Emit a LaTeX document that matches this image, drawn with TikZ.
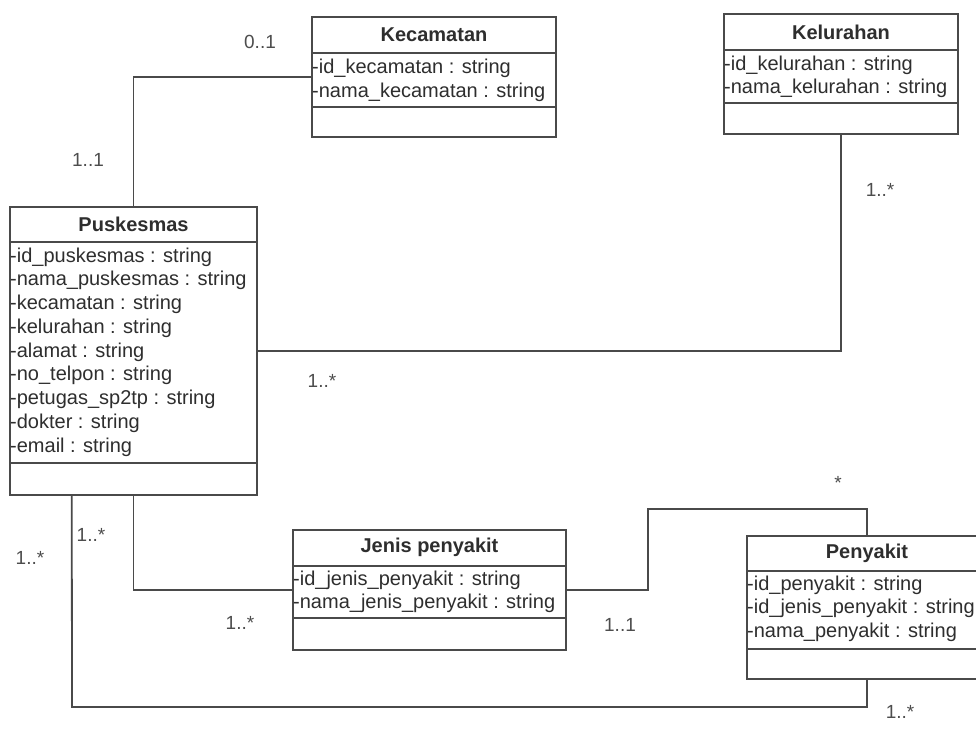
\documentclass[tikz,border=0pt]{standalone}
\usepackage{fontspec}
\setmainfont{Liberation Sans}
\usetikzlibrary{calc}
\definecolor{ink}{HTML}{2E2E2E}
\definecolor{edge}{HTML}{4A4A4A}
\begin{document}
\begin{tikzpicture}[x=1pt,y=-1pt,
  classbox/.style={draw=edge, line width=1.8pt, fill=white, anchor=north west,
                   inner sep=0pt, outer sep=0pt},
  ctitle/.style={font=\fontsize{20}{24}\selectfont\bfseries, text=ink, inner sep=0pt},
  attr/.style={font=\fontsize{20}{24}\selectfont, text=ink, anchor=west, inner sep=0pt},
  mult/.style={font=\fontsize{19}{23}\selectfont, text=ink!85, inner sep=0pt},
  assoc/.style={draw=edge, line width=1.8pt},
  compart/.style={draw=edge, line width=1.8pt}]

\useasboundingbox (0,0) rectangle (976,749);
\clip (0,0) rectangle (976,749);
\fill[white] (0,0) rectangle (976,749);

% ---------- class boxes ----------
\node[classbox, minimum width=244, minimum height=120] (kec) at (312,17) {};
\node[classbox, minimum width=234, minimum height=120] (kel) at (724,14) {};
\node[classbox, minimum width=247, minimum height=288] (pus) at (10,207) {};
\node[classbox, minimum width=273, minimum height=120] (jen) at (293,530) {};
\node[classbox, minimum width=240, minimum height=143] (pen) at (747,536) {};

% ---------- associations ----------
\coordinate (bendA) at (648,509);
\coordinate (pusA) at ($(pus.south west)!0.25!(pus.south east)$);
\coordinate (low) at (72,707);

\draw[assoc] (kec.west) -| (pus.north);
\draw[assoc] (kel.south) |- (pus.east);
\draw[assoc] (pus.south) |- (jen.west);
\draw[assoc] (jen.east) -| (bendA) -| (pen.north);
\draw[assoc] (pusA) -- (low) -| (pen.south);

% ---------- compartments ----------
\draw[compart] (312,53) -- (556,53) (312,107) -- (556,107);
\draw[compart] (724,50) -- (958,50) (724,103) -- (958,103);
\draw[compart] (10,242) -- (257,242) (10,463) -- (257,463);
\draw[compart] (293,566) -- (566,566) (293,618) -- (566,618);
\draw[compart] (747,571) -- (987,571) (747,649) -- (987,649);

% redraw outlines over the connector ends
\foreach \b in {kec,kel,pus,jen,pen}
  \draw[edge, line width=1.8pt] (\b.north west) rectangle (\b.south east);

% ---------- Kecamatan ----------
\node[ctitle] (kecT) at (434,35) {Kecamatan};
\node[attr] (kecA1) at (312,68) {-id\_kecamatan : string};
\node[attr] (kecA2) at (312,92) {-nama\_kecamatan : string};

% ---------- Kelurahan ----------
\node[ctitle] (kelT) at (841,32) {Kelurahan};
\node[attr] (kelA1) at (724,65) {-id\_kelurahan : string};
\node[attr] (kelA2) at (724,88) {-nama\_kelurahan : string};

% ---------- Puskesmas ----------
\node[ctitle] (pusT) at (133.5,224) {Puskesmas};
\node[attr] (pusA1) at (10,257) {-id\_puskesmas : string};
\node[attr] (pusA2) at (10,280.75) {-nama\_puskesmas : string};
\node[attr] (pusA3) at (10,304.5) {-kecamatan : string};
\node[attr] (pusA4) at (10,328.25) {-kelurahan : string};
\node[attr] (pusA5) at (10,352) {-alamat : string};
\node[attr] (pusA6) at (10,375.75) {-no\_telpon : string};
\node[attr] (pusA7) at (10,399.5) {-petugas\_sp2tp : string};
\node[attr] (pusA8) at (10,423.25) {-dokter : string};
\node[attr] (pusA9) at (10,447) {-email : string};

% ---------- Jenis penyakit ----------
\node[ctitle] (jenT) at (429.5,547) {Jenis penyakit};
\node[attr] (jenA1) at (293,580) {-id\_jenis\_penyakit : string};
\node[attr] (jenA2) at (293,603) {-nama\_jenis\_penyakit : string};

% ---------- Penyakit ----------
\node[ctitle] (penT) at (867,553) {Penyakit};
\node[attr] (penA1) at (747,585) {-id\_penyakit : string};
\node[attr] (penA2) at (747,608.5) {-id\_jenis\_penyakit : string};
\node[attr] (penA3) at (747,632) {-nama\_penyakit : string};

% ---------- multiplicities ----------
\node[mult] (m1) at (260,42) {0..1};
\node[mult] (m2) at (88,160) {1..1};
\node[mult] (m3) at (880,190) {1..*};
\node[mult] (m4) at (322,381) {1..*};
\node[mult] (m5) at (838,483) {*};
\node[mult] (m6) at (91,535) {1..*};
\node[mult] (m7) at (30,558) {1..*};
\node[mult] (m8) at (240,623) {1..*};
\node[mult] (m9) at (620,625) {1..1};
\node[mult] (m10) at (900,712) {1..*};
\end{tikzpicture}
\end{document}
